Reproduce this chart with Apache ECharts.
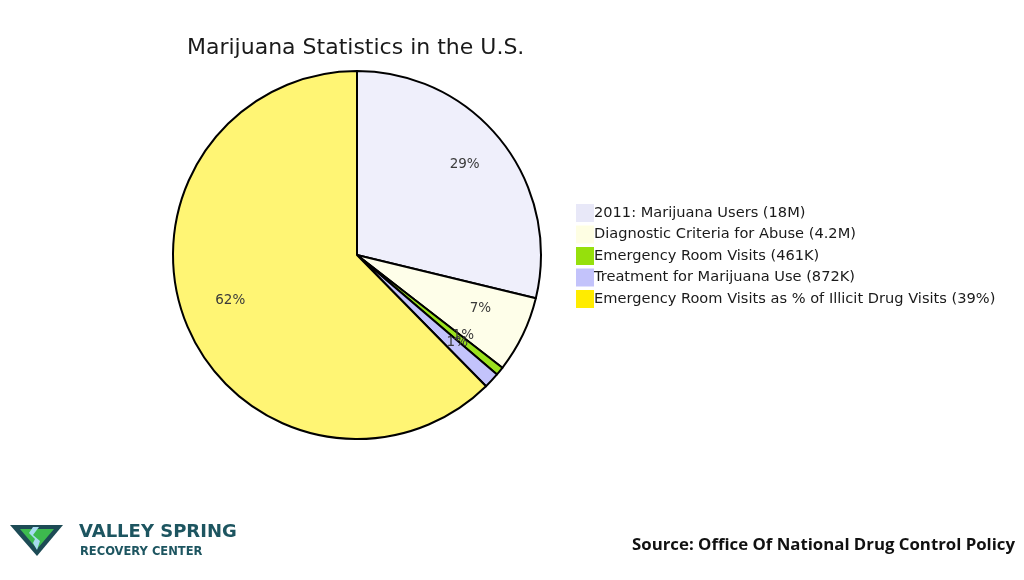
<!DOCTYPE html>
<html><head><meta charset="utf-8">
<script src="https://cdn.jsdelivr.net/npm/echarts@6/dist/echarts.min.js"></script>
<style>html,body{margin:0;padding:0;background:#fff}#c{width:1024px;height:580px}</style>
</head><body><div id="c"></div>
<script>
const categories = ['2011: Marijuana Users (18M)','Diagnostic Criteria for Abuse (4.2M)','Emergency Room Visits (461K)','Treatment for Marijuana Use (872K)','Emergency Room Visits as % of Illicit Drug Visits (39%)'];
const values = [18, 4.2, 0.461, 0.872, 39];
const sliceColors = ['#efeffb','#fefee9','#9be21e','#c3c3fb','#fff574'];
const legendColors = ['#e8e8f8','#fefee3','#96e00c','#c3c3fb','#ffec00'];

const chart = echarts.init(document.getElementById('c'), null, {renderer:'canvas'});
const data = categories.map((n,i)=>({name:n, value:values[i], itemStyle:{color:sliceColors[i]}}));
const labelData = categories.map((n,i)=>({name:n, value:values[i]}));
const total = values.reduce((a,b)=>a+b,0);
chart.setOption({
  animation:false,
  title:{text:'Marijuana Statistics in the U.S.', left:182, top:32,
    textStyle:{fontFamily:'DejaVu Sans', fontSize:22, fontWeight:'normal', color:'#1a1a1a'}},
  legend:{orient:'vertical', left:571, top:199, itemWidth:18, itemHeight:18, itemGap:3.5,
    icon:'rect',
    data:categories.map((n,i)=>({name:n, itemStyle:{color:legendColors[i], borderWidth:0}})),
    textStyle:{fontFamily:'DejaVu Sans', fontSize:14.6, color:'#1a1a1a', padding:[0,0,0,-5]}},
  series:[
    {type:'pie', radius:[0,184], center:[357,255], startAngle:90, clockwise:true,
     label:{show:false}, labelLine:{show:false}, silent:true,
     itemStyle:{borderColor:'#000', borderWidth:2},
     data:data},
    {type:'pie', radius:[84,184], center:[357,255], startAngle:90, clockwise:true,
     silent:true, legendHoverLink:false, minShowLabelAngle:0, avoidLabelOverlap:false,
     itemStyle:{color:'rgba(0,0,0,0)', borderWidth:0},
     label:{show:true, position:'inside', fontFamily:'DejaVu Sans', fontSize:13.5, color:'#3a3a3a',
       formatter:p=>Math.round(p.value/total*100)+'%'},
     labelLayout:{hideOverlap:false, dy:-6},
     labelLine:{show:false},
     data:labelData}
  ],
  graphic:[
    {type:'polygon', shape:{points:[[10,525],[63,525],[37,556]]}, style:{fill:'#1d4b55'}},
    {type:'polygon', shape:{points:[[20,529],[54,529],[37,549]]}, style:{fill:'#3dba4e'}},
    {type:'polygon', shape:{points:[[33,527],[39,527],[33,535],[40,541],[37,550],[33,543],[35,539],[29,533]]}, style:{fill:'#a8dcef'}},
    {type:'text', left:79, top:523, style:{text:'VALLEY SPRING', fontFamily:'DejaVu Sans', fontWeight:'bold', fontSize:18, fill:'#1d5560', letterSpacing:2.3}},
    {type:'text', left:80, top:546, style:{text:'RECOVERY CENTER', fontFamily:'DejaVu Sans', fontWeight:'bold', fontSize:11.5, fill:'#1d5560', letterSpacing:2.2}},
    {type:'text', right:9, top:537, style:{text:'Source: Office Of National Drug Control Policy', fontFamily:'Open Sans', fontWeight:'bold', fontSize:16.8, fill:'#111'}}
  ]
});
</script></body></html>
